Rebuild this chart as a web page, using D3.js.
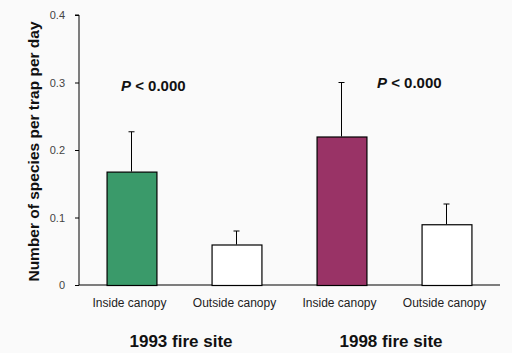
<!DOCTYPE html>
<html>
<head>
<meta charset="utf-8">
<script src="https://cdn.jsdelivr.net/npm/d3@7"></script>
<style>
  body { margin: 0; background: #fafafa; }
  text { font-family: Arial, "Liberation Sans", sans-serif; }
</style>
</head>
<body>
<div id="chart"></div>
<script>
// data
const categories = ["Inside canopy", "Outside canopy", "Inside canopy ", "Outside canopy "];
const means = [0.168, 0.06, 0.22, 0.09];
const errTops = [0.227, 0.08, 0.30, 0.12];
const barColors = ["#3a9a6a", "#ffffff", "#993366", "#ffffff"];
const sites = ["1993 fire site", "1998 fire site"];
const pLabels = ["< 0.000", " < 0.000"];
const pLevels = [0.287, 0.292];
const yTicks = [0, 0.1, 0.2, 0.3, 0.4];

const width = 512, height = 353;
const margin = {left: 79, right: 13, top: 15, bottom: 68};

const svg = d3.select("#chart").append("svg")
    .attr("width", width)
    .attr("height", height)
    .style("background", "#fafafa");

const x = d3.scaleBand()
    .domain(categories)
    .range([margin.left, width - margin.right])
    .paddingInner(0.525)
    .paddingOuter(0.2625);

const y = d3.scaleLinear()
    .domain([0, 0.4])
    .range([height - margin.bottom, margin.top]);

// y axis
const yAxis = svg.append("g")
    .attr("transform", `translate(${margin.left},0)`)
    .call(d3.axisLeft(y).tickValues(yTicks).tickFormat(d => d === 0 ? "0" : d3.format(".1f")(d)).tickSize(4).tickPadding(10));
yAxis.select(".domain").attr("stroke", "#000").attr("d", `M-4,${y(0.4)}H0V${y(0)}`);
yAxis.selectAll("line").attr("stroke", "#000");
yAxis.selectAll("text").attr("font-size", 11).attr("fill", "#444")
    .attr("font-family", "Arial, 'Liberation Sans', sans-serif");

// x axis line
svg.append("line")
    .attr("x1", margin.left).attr("x2", width - margin.right + 1)
    .attr("y1", y(0)).attr("y2", y(0))
    .attr("stroke", "#000");

// error bars
const cap = 3;
svg.selectAll("line.err")
    .data(categories)
    .join("line")
    .attr("class", "err")
    .attr("x1", d => x(d) + x.bandwidth() / 2)
    .attr("x2", d => x(d) + x.bandwidth() / 2)
    .attr("y1", (d, i) => y(means[i]))
    .attr("y2", (d, i) => y(errTops[i]))
    .attr("stroke", "#000");
svg.selectAll("line.cap")
    .data(categories)
    .join("line")
    .attr("class", "cap")
    .attr("x1", d => x(d) + x.bandwidth() / 2 - cap)
    .attr("x2", d => x(d) + x.bandwidth() / 2 + cap)
    .attr("y1", (d, i) => y(errTops[i]))
    .attr("y2", (d, i) => y(errTops[i]))
    .attr("stroke", "#000");

// bars
svg.selectAll("rect.bar")
    .data(categories)
    .join("rect")
    .attr("class", "bar")
    .attr("x", d => x(d) + 0.5)
    .attr("y", (d, i) => y(means[i]) + 0.5)
    .attr("width", x.bandwidth())
    .attr("height", (d, i) => y(0) - y(means[i]))
    .attr("fill", (d, i) => barColors[i])
    .attr("stroke", "#000")
    .attr("stroke-width", 1.2);

// category labels
svg.selectAll("text.cat")
    .data(categories)
    .join("text")
    .attr("class", "cat")
    .attr("x", d => x(d) + x.bandwidth() / 2 - 2)
    .attr("y", y(0) + 21.5)
    .attr("text-anchor", "middle")
    .attr("font-size", 12)
    .attr("fill", "#222")
    .text(d => d.trim());

// site labels
svg.selectAll("text.site")
    .data(sites)
    .join("text")
    .attr("class", "site")
    .attr("x", (d, i) => (x(categories[i * 2]) + x(categories[i * 2 + 1]) + x.bandwidth()) / 2 - 3)
    .attr("y", y(0) + 62)
    .attr("text-anchor", "middle")
    .attr("font-size", 17)
    .attr("font-weight", "bold")
    .attr("fill", "#111")
    .text(d => d);

// p-value annotations
const pX = [121, 377];
pLabels.forEach((lab, i) => {
  const t = svg.append("text")
      .attr("x", pX[i])
      .attr("y", y(pLevels[i]))
      .attr("font-size", 15)
      .attr("font-weight", "bold")
      .attr("fill", "#111");
  t.append("tspan").attr("font-style", "italic").text("P");
  t.append("tspan").attr("font-weight", "normal").text(" ");
  t.append("tspan").text(lab);
});

// y axis title
svg.append("text")
    .attr("transform", `translate(39,${(y(0) + 18) / 2}) rotate(-90)`)
    .attr("text-anchor", "middle")
    .attr("font-size", 15.5)
    .attr("font-weight", "bold")
    .attr("fill", "#111")
    .text("Number of species per trap per day");
</script>
</body>
</html>
